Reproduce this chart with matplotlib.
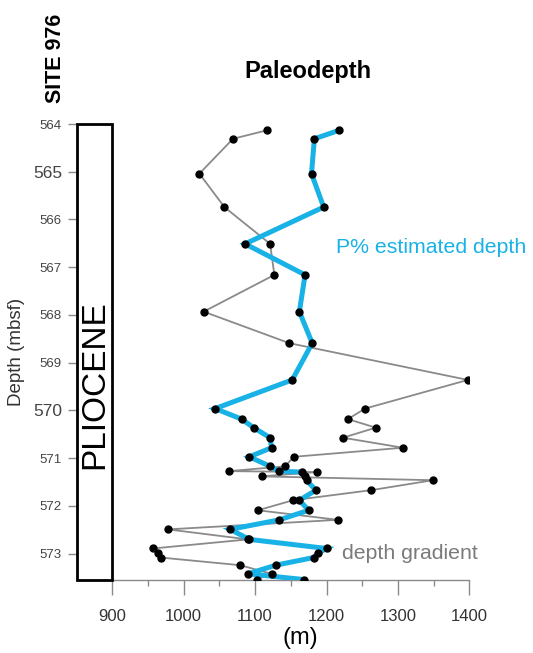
import matplotlib
matplotlib.use("Agg")
import matplotlib.pyplot as plt
from matplotlib.patches import Rectangle

plt.rcParams['font.family'] = ['Liberation Sans', 'DejaVu Sans']

# sample depths (mbsf), shared by both series
depth = [564.13, 564.31, 565.04, 565.74, 566.51, 567.16, 567.93, 568.59,
         569.36, 569.96, 570.18, 570.36, 570.57, 570.78, 570.97, 571.17,
         571.27, 571.29, 571.38, 571.46, 571.67, 571.88, 572.09, 572.29,
         572.49, 572.70, 572.89, 572.99, 573.08, 573.24, 573.42, 573.54]
# depth gradient (m)
gradient = [1117, 1069, 1022, 1057, 1121, 1127, 1028, 1148,
            1398, 1254, 1230, 1269, 1223, 1307, 1154, 1142,
            1063, 1186, 1109, 1349, 1262, 1153, 1104, 1216,
            978, 1090, 957, 964, 968, 1079, 1123, 1102]
# P% estimated depth (m)
pdepth = [1218, 1183, 1179, 1196, 1086, 1170, 1162, 1180,
          1152, 1044, 1081, 1098, 1121, 1123, 1092, 1121,
          1133, 1165, 1170, 1172, 1185, 1162, 1175, 1134,
          1065, 1092, 1200, 1188, 1182, 1129, 1090, 1168]

xticks = [900, 1000, 1100, 1200, 1300, 1400]
yticks = [564, 565, 566, 567, 568, 569, 570, 571, 572, 573]
big_labels = [565, 570]

blue = '#19b2e6'
gray = '#8a8a8a'

fig = plt.figure(figsize=(5.33, 6.53), dpi=100)
ax = fig.add_axes([0.1437, 0.1118, 0.7368, 0.6983])

ax.plot(gradient, depth, color=gray, lw=1.3, zorder=2)
ax.plot(pdepth, depth, color=blue, lw=3.6, zorder=3, solid_joinstyle='miter')
ax.plot(gradient, depth, 'o', color='black', ms=5, zorder=4)
ax.plot(pdepth, depth, 'o', color='black', ms=5, zorder=4)

ax.set_xlim(850, 1400)
ax.set_ylim(573.55, 564)

# lithology box
ax.add_patch(Rectangle((850, 564), 50, 9.55, fill=False, ec='black', lw=2,
                       clip_on=False, zorder=5))
ax.text(875, 569.45, 'PLIOCENE', rotation=90, ha='center', va='center',
        fontsize=24, color='black')

for s in ['top', 'right', 'left']:
    ax.spines[s].set_visible(False)
ax.spines['bottom'].set_color(gray)
ax.spines['bottom'].set_linewidth(1)

ax.set_xticks(xticks)
ax.set_xticks(range(950, 1400, 100), minor=True)
ax.tick_params(axis='x', which='major', length=11, width=1, color=gray,
               labelsize=12, labelcolor='#333333', pad=10)
ax.tick_params(axis='x', which='minor', length=4, width=1, color=gray)

ax.set_yticks(yticks)
ax.tick_params(axis='y', length=6.5, width=1, color=gray, labelcolor='#444444', pad=4)
ax.set_yticklabels([str(v) for v in yticks])
for lab, v in zip(ax.get_yticklabels(), yticks):
    lab.set_fontsize(12.5 if v in big_labels else 9.5)

ax.set_xlabel('(m)', fontsize=17, va='center')
ax.xaxis.set_label_coords(0.569, -0.127)
ax.set_ylabel('Depth (mbsf)', fontsize=13.5, color='#333333', va='center')
ax.yaxis.set_label_coords(-0.152, 0.5)

ax.text(1214, 566.58, 'P% estimated depth', color=blue, fontsize=15.3,
        ha='left', va='center')
ax.text(1222, 572.99, 'depth gradient', color='#7a7a7a', fontsize=15.3,
        ha='left', va='center')

fig.text(0.578, 0.890, 'Paleodepth', fontsize=17, fontweight='bold',
         ha='center', va='center')
fig.text(0.105, 0.910, 'SITE 976', fontsize=15.5, fontweight='bold',
         rotation=90, ha='center', va='center')

fig.savefig('out.png', dpi=100)
